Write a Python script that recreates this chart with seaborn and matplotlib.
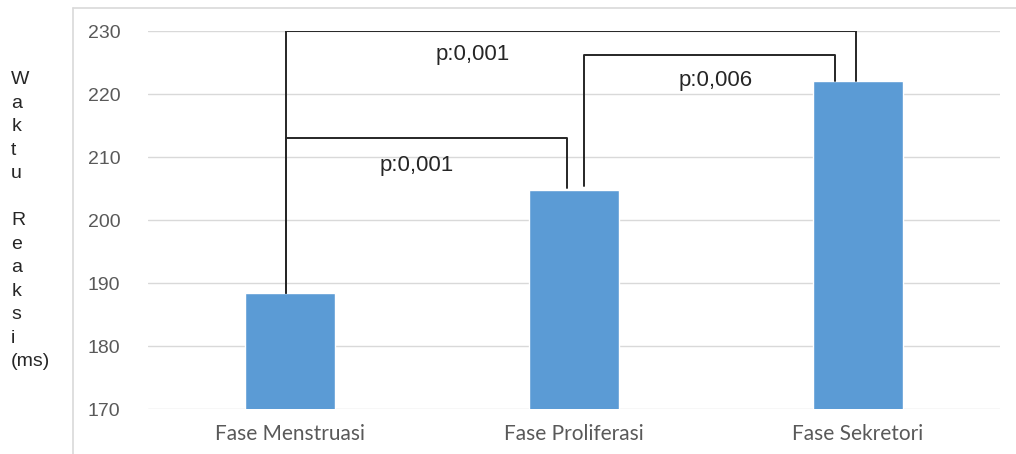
import pandas as pd
import seaborn as sns
import matplotlib.pyplot as plt
from matplotlib.lines import Line2D

# Data
phases = ['Fase Menstruasi', 'Fase Proliferasi', 'Fase Sekretori']
reaction_ms = [188.4, 204.8, 222.1]
yticks = [170, 180, 190, 200, 210, 220, 230]
p_labels = ['p:0,001', 'p:0,001', 'p:0,006']

df = pd.DataFrame({'fase': phases, 'waktu': reaction_ms})

sns.set_style('white')
plt.rcParams['font.family'] = ['Liberation Sans', 'DejaVu Sans']

fig = plt.figure(figsize=(10.16, 4.54), dpi=100)
ax = fig.add_axes([0.1457, 0.0991, 0.984 - 0.1457, 0.9317 - 0.0991])

sns.barplot(data=df, x='fase', y='waktu', color='#5B9BD5', width=0.315,
            saturation=1, ax=ax, zorder=3)

ax.set_ylim(170, 230)
ax.set_xlim(-0.5, 2.5)
ax.set_yticks(yticks)
ax.yaxis.grid(True, color='#D9D9D9', linewidth=1, zorder=0)
for s in ax.spines.values():
    s.set_visible(False)
ax.set_xlabel('')
ax.set_ylabel('')
ax.tick_params(axis='y', length=0, pad=20, labelsize=14, labelcolor='#595959')
ax.tick_params(axis='x', length=0, pad=11, labelcolor='#595959')
for lab in ax.get_xticklabels():
    lab.set_fontfamily('Lato')
    lab.set_fontsize(15)

# significance brackets
v1, v2, v3 = reaction_ms
kw = dict(color='#262626', linewidth=1.4, zorder=4)
# 1 vs 2
ax.plot([-0.014, -0.014, 0.975, 0.975], [v1, 213, 213, v2 + 0.3], **kw)
# 1 vs 3
ax.plot([-0.014, -0.014, 1.995, 1.995], [v1, 230, 230, v3], **kw)
# 2 vs 3
ax.plot([1.035, 1.035, 1.92, 1.92], [v2 + 0.6, 226.2, 226.2, v3], **kw)

pkw = dict(ha='center', va='center', fontsize=16, color='#262626')
ax.text(0.445, 208.7, p_labels[0], **pkw)
ax.text(0.643, 226.2, p_labels[1], **pkw)
ax.text(1.50, 222.2, p_labels[2], **pkw)

# vertical stacked y label
fig.text(0.011, 0.843, 'W\na\nk\nt\nu\n\nR\ne\na\nk\ns\ni\n(ms)', ha='left', va='top',
         fontsize=14, color='#262626', linespacing=1.5)

# outer chart frame
fig.add_artist(Line2D([73 / 1016, 73 / 1016], [0, 1 - 8 / 454],
                      color='#D9D9D9', linewidth=1.2, transform=fig.transFigure))
fig.add_artist(Line2D([73 / 1016, 1], [1 - 8 / 454, 1 - 8 / 454],
                      color='#D9D9D9', linewidth=1.2, transform=fig.transFigure))

fig.savefig('out.png', dpi=100)
